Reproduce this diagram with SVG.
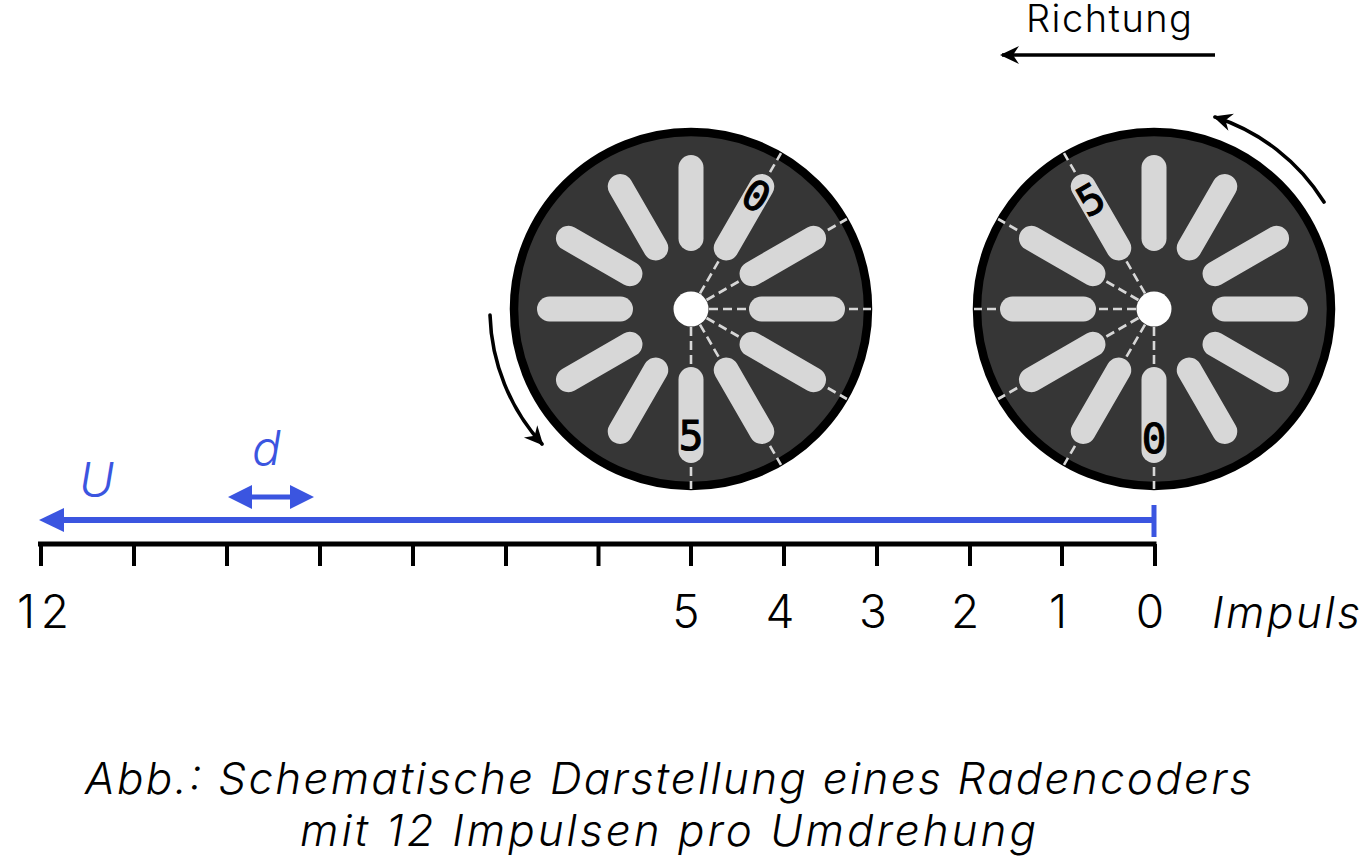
<svg xmlns="http://www.w3.org/2000/svg" xmlns:xlink="http://www.w3.org/1999/xlink" width="1360" height="857" viewBox="0 0 1360 857">
<style>
.t{font-family:"Inter","Open Sans",sans-serif;font-weight:300;fill:#000}
.i{font-style:italic}
.b{fill:#3b55e0}
.n{font-family:"DejaVu Sans Mono",monospace;font-weight:400;font-size:41px;fill:#000;stroke:#000;stroke-width:1.100;text-anchor:middle}
.slot{stroke:#d7d7d7;stroke-width:25;stroke-linecap:round;fill:none}
.dash{stroke:#d7d7d7;stroke-width:2.6;stroke-dasharray:9 5;fill:none}
.k{fill:none;stroke:#000}
</style>
<defs>
<marker id="ah" markerUnits="userSpaceOnUse" markerWidth="24" markerHeight="24" refX="17" refY="12" orient="auto" viewBox="0 0 24 24"><path d="M0,3 L19,12 L0,21 L6,12 z" fill="#000"/></marker>
<g id="slots">
<line class="slot" x1="70.5" y1="0" x2="141.5" y2="0"/>
<line class="slot" x1="70.5" y1="0" x2="141.5" y2="0" transform="rotate(30)"/>
<line class="slot" x1="70.5" y1="0" x2="141.5" y2="0" transform="rotate(60)"/>
<line class="slot" x1="70.5" y1="0" x2="141.5" y2="0" transform="rotate(90)"/>
<line class="slot" x1="70.5" y1="0" x2="141.5" y2="0" transform="rotate(120)"/>
<line class="slot" x1="70.5" y1="0" x2="141.5" y2="0" transform="rotate(150)"/>
<line class="slot" x1="70.5" y1="0" x2="141.5" y2="0" transform="rotate(180)"/>
<line class="slot" x1="70.5" y1="0" x2="141.5" y2="0" transform="rotate(210)"/>
<line class="slot" x1="70.5" y1="0" x2="141.5" y2="0" transform="rotate(240)"/>
<line class="slot" x1="70.5" y1="0" x2="141.5" y2="0" transform="rotate(270)"/>
<line class="slot" x1="70.5" y1="0" x2="141.5" y2="0" transform="rotate(300)"/>
<line class="slot" x1="70.5" y1="0" x2="141.5" y2="0" transform="rotate(330)"/>
</g>
</defs>

<g id="wheel-left" transform="translate(691 309)">
<circle r="177" fill="#363636" stroke="#000" stroke-width="8.500"/>
<g class="dashes">
<line class="dash" x1="18" x2="180" transform="rotate(-60)"/>
<line class="dash" x1="18" x2="180" transform="rotate(-30)"/>
<line class="dash" x1="18" x2="180"/>
<line class="dash" x1="18" x2="180" transform="rotate(30)"/>
<line class="dash" x1="18" x2="180" transform="rotate(60)"/>
<line class="dash" x1="18" x2="180" transform="rotate(90)"/>
</g>
<use href="#slots" xlink:href="#slots"/>
<circle r="17.5" fill="#fff"/>
<text class="n" transform="rotate(30) translate(0 -116)" y="0">0</text>
<text class="n" x="0" y="141">5</text>
</g>

<g id="wheel-right" transform="translate(1154 309)">
<circle r="177" fill="#363636" stroke="#000" stroke-width="8.500"/>
<g class="dashes">
<line class="dash" x1="18" x2="180" transform="rotate(90)"/>
<line class="dash" x1="18" x2="180" transform="rotate(120)"/>
<line class="dash" x1="18" x2="180" transform="rotate(150)"/>
<line class="dash" x1="18" x2="180" transform="rotate(180)"/>
<line class="dash" x1="18" x2="180" transform="rotate(210)"/>
<line class="dash" x1="18" x2="180" transform="rotate(240)"/>
</g>
<use href="#slots" xlink:href="#slots"/>
<circle r="17.5" fill="#fff"/>
<text class="n" x="0" y="144">0</text>
<text class="n" transform="rotate(-30) translate(0 -112)" y="0">5</text>
</g>

<g id="connectors">
<path class="k" stroke-width="3.6" d="M1215,55 H1002" marker-end="url(#ah)"/>
<path class="k" stroke-width="3.6" stroke-linecap="round" d="M1324,202 A201,201 0 0 0 1215,117" marker-end="url(#ah)"/>
<path class="k" stroke-width="3.6" stroke-linecap="round" d="M490,315 A201,201 0 0 0 542,444" marker-end="url(#ah)"/>
</g>

<g id="axis">
<path class="k" stroke-width="5" d="M38,544 H1156.500"/>
<path class="k" stroke-width="4" d="M41,544V566M134,544V566M227,544V566M320,544V566M413,544V566M506,544V566M598.500,544V566M691,544V566M784,544V566M877,544V566M970,544V566M1062,544V566M1155,544V566"/>
</g>

<g id="measure-U">
<path d="M60,520 H1154" stroke="#3b55e0" stroke-width="6" fill="none"/>
<path d="M1154,505 V537" stroke="#3b55e0" stroke-width="5" fill="none"/>
<path class="b" d="M39,520 L64,508 V532 z"/>
<text class="t i b" x="79" y="497" font-size="48">U</text>
</g>
<g id="measure-d">
<path d="M250,497 H292" stroke="#3b55e0" stroke-width="5" fill="none"/>
<path class="b" d="M228,497 L252,485 V509 z M314,497 L290,485 V509 z"/>
<text class="t i b" x="252" y="465" font-size="48">d</text>
</g>

<g id="labels">
<text class="t" x="1026" y="32" font-size="38" textLength="166">Richtung</text>
<text class="t" x="17" y="628" font-size="46" textLength="52">12</text>
<text class="t" x="686" y="628" font-size="46" text-anchor="middle">5</text>
<text class="t" x="780" y="628" font-size="46" text-anchor="middle">4</text>
<text class="t" x="873" y="628" font-size="46" text-anchor="middle">3</text>
<text class="t" x="965" y="628" font-size="46" text-anchor="middle">2</text>
<text class="t" x="1058" y="628" font-size="46" text-anchor="middle">1</text>
<text class="t" x="1150" y="628" font-size="46" text-anchor="middle">0</text>
<text class="t i" x="1212" y="628" font-size="44" textLength="148">Impuls</text>
<text class="t i" x="85" y="794" font-size="44" textLength="1167">Abb.: Schematische Darstellung eines Radencoders</text>
<text class="t i" x="300" y="846" font-size="44" textLength="736">mit 12 Impulsen pro Umdrehung</text>
</g>
</svg>
